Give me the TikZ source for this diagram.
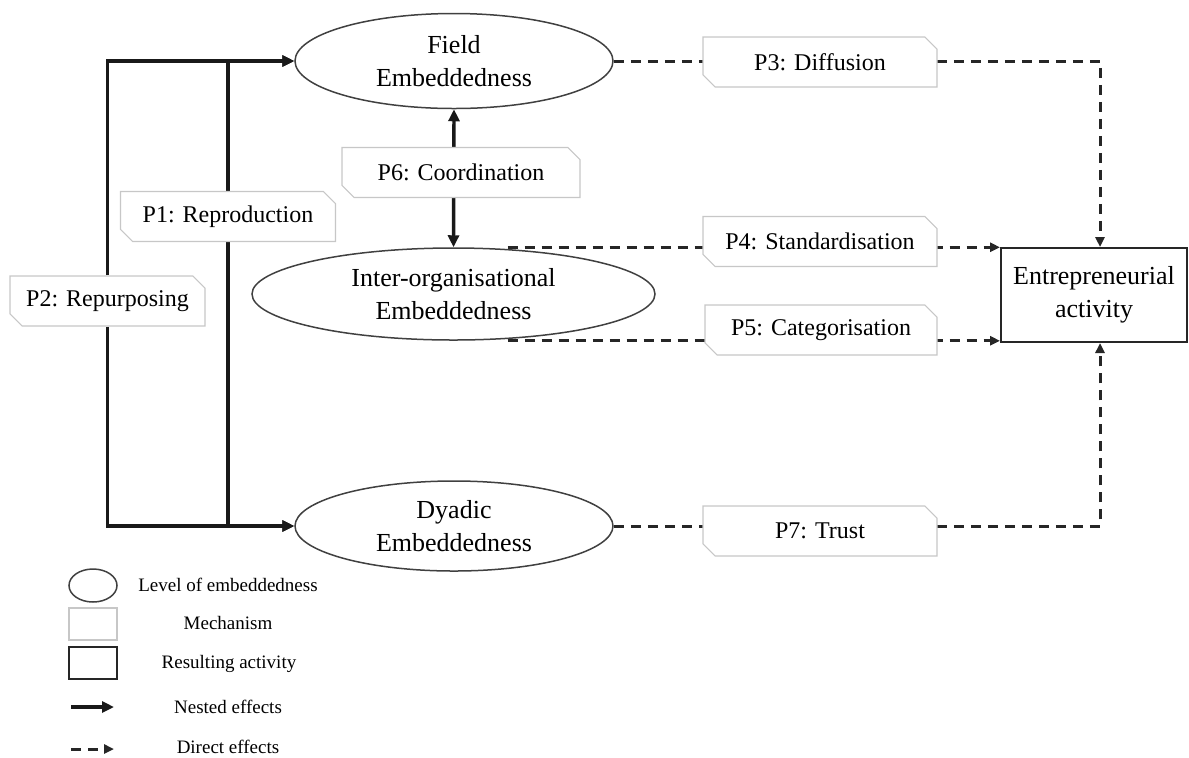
\documentclass[tikz,border=0pt]{standalone}
\usepackage{fontspec}
\setmainfont{Liberation Serif}
\usetikzlibrary{shapes.geometric,shapes.misc,arrows.meta,backgrounds}

\begin{document}
\begin{tikzpicture}[x=0.5pt,y=-0.5pt,
	every node/.style={font=\fontsize{13}{16.5}\selectfont, align=center},
	embed/.style={ellipse, draw=black!75, line width=0.75pt, inner sep=0pt, fill=white},
	mech/.style={chamfered rectangle, chamfered rectangle corners={north east,south west},
		chamfered rectangle xsep=3pt, draw=black!22, line width=0.6pt, fill=white,
		inner sep=0pt, minimum height=25pt, font=\fontsize{12}{14}\selectfont},
	result/.style={rectangle, draw=black!85, line width=1pt, inner sep=0pt},
	nested/.style={line width=1.7pt, black!90, -{Triangle[length=6pt,width=5.5pt]}},
	direct/.style={line width=1.5pt, black!85, dash pattern=on 5pt off 3.5pt,
		-{Triangle[length=5pt,width=4.5pt]}},
	legtext/.style={font=\fontsize{9.5}{11}\selectfont, inner sep=0pt}]
	\useasboundingbox (0,0) rectangle (1189,757);

	% levels of embeddedness
	\node[embed, minimum width=159pt, minimum height=47.5pt] (field) at (454,61) {Field\\Embeddedness};
	\node[embed, minimum width=201.5pt, minimum height=46pt] (inter) at (453.5,294) {Inter-organisational\\Embeddedness};
	\node[embed, minimum width=159pt, minimum height=45pt] (dyadic) at (454,526) {Dyadic\\Embeddedness};
	\node[result, minimum width=93pt, minimum height=47pt] (entre) at (1094,295) {Entrepreneurial\\activity};

	% mechanisms
	\foreach \n/\x/\y/\w/\t in {p1/228/216.5/107.5/{P1: Reproduction},
		p2/107.5/301/97.5/{P2: Repurposing},
		p3/820/62/117/{P3: Diffusion},
		p4/820/241.5/117/{P4: Standardisation},
		p5/821/330/116/{P5: Categorisation},
		p6/461/172.5/119/{P6: Coordination},
		p7/820/531/117/{P7: Trust}}
	{
		\node[mech, minimum width=\w pt] (\n) at (\x,\y) {\t};
	}

	\coordinate (itop) at ([xshift=27pt]inter.north);
	\coordinate (ibot) at ([xshift=27pt]inter.south);

	\begin{scope}[on background layer]
		\draw[nested] (p2) |- (field.west);
		\draw[nested] (p2) |- (dyadic.west);
		\draw[nested] (p1) |- (field.west);
		\draw[nested] (p1) |- (dyadic.west);
		\draw[nested, {Triangle[length=6pt,width=5.5pt]}-{Triangle[length=6pt,width=5.5pt]}] (field.south) -- (inter.north);
		\draw[direct] (field.east) -| ([xshift=3pt]entre.north);
		\draw[direct] (itop) -- (itop -| entre.west);
		\draw[direct] (ibot) -- (ibot -| entre.west);
		\draw[direct] (dyadic.east) -| ([xshift=3pt]entre.south);
	\end{scope}

	% legend
	\node[embed, minimum width=24pt, minimum height=16.5pt] (kemb) at (93,585.5) {};
	\node[mech, minimum width=24pt, minimum height=16pt, chamfered rectangle xsep=2.5pt] (kmech) at (93,624) {};
	\node[result, minimum width=24pt, minimum height=16pt] (kres) at (93,663) {};
	\coordinate (knest) at (71,707);
	\coordinate (knestend) at (114,707);
	\coordinate (kdir) at (71,749);
	\coordinate (kdirend) at (114,749);
	\draw[nested] (knest) -- (knestend);
	\draw[direct] (kdir) -- (kdirend);
	\node[legtext] (temb) at (228,585) {Level of embeddedness};
	\node[legtext] (tmech) at (228,623) {Mechanism};
	\node[legtext] (tres) at (229,664) {Resulting activity};
	\node[legtext] (tnest) at (228,707) {Nested effects};
	\node[legtext] (tdir) at (228,747) {Direct effects};
\end{tikzpicture}
\end{document}
